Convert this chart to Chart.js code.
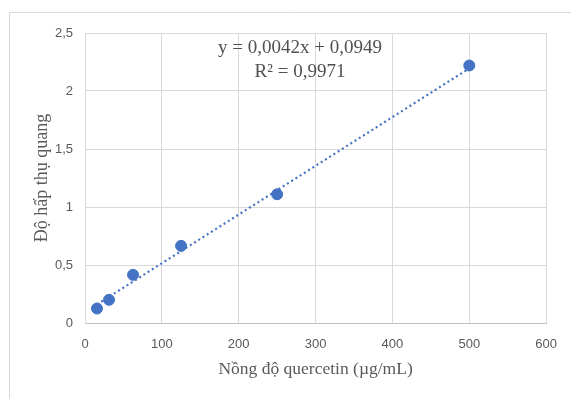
<!DOCTYPE html>
<html>
<head>
<meta charset="utf-8">
<script src="https://cdn.jsdelivr.net/npm/chart.js@4"></script>
<style>
  html, body { margin: 0; padding: 0; background: #fff; }
  #wrap { width: 571px; height: 399px; }
</style>
</head>
<body>
<div id="wrap"><canvas id="chart" width="571" height="399"></canvas></div>
<script>
// Concentration (µg/mL) and absorbance
const concentrations = [15.625, 31.25, 62.5, 125, 250, 500];
const absorbances = [0.125, 0.2, 0.415, 0.665, 1.11, 2.22];

// Linear trendline endpoints (from y = 0,0042x + 0,0949)
const trendX = [15.625, 500];
const trendY = [0.1605, 2.1949];

const equationLines = ["y = 0,0042x + 0,0949", "R² = 0,9971"];

const blue = "#4472C4";
const gridColor = "#d9d9d9";

// Outer frame + equation label
const decorPlugin = {
  id: "decor",
  afterDraw(chart) {
    const ctx = chart.ctx;
    ctx.save();
    ctx.strokeStyle = gridColor;
    ctx.lineWidth = 1;
    ctx.beginPath();
    ctx.moveTo(9.5, 399);
    ctx.lineTo(9.5, 12.5);
    ctx.lineTo(571, 12.5);
    ctx.stroke();

    ctx.fillStyle = "#505050";
    ctx.font = "19px 'Liberation Serif'";
    ctx.textAlign = "center";
    ctx.textBaseline = "middle";
    ctx.fillText(equationLines[0], 300, 48);
    ctx.fillText(equationLines[1], 300, 72);
    ctx.restore();
  },
};

new Chart(document.getElementById("chart"), {
  type: "scatter",
  data: {
    datasets: [
      {
        label: "Absorbance",
        data: concentrations.map((x, i) => ({ x: x, y: absorbances[i] })),
        backgroundColor: blue,
        borderColor: blue,
        pointRadius: 5.5,
        pointHoverRadius: 5.5,
        order: 1,
      },
      {
        label: "Trendline",
        type: "line",
        data: trendX.map((x, i) => ({ x: x, y: trendY[i] })),
        borderColor: blue,
        borderWidth: 2.2,
        borderDash: [2, 3],
        pointRadius: 0,
        fill: false,
        order: 2,
      },
    ],
  },
  options: {
    responsive: false,
    animation: false,
    layout: { padding: { left: 0, top: 33, right: 23, bottom: 0 } },
    plugins: {
      legend: { display: false },
      tooltip: { enabled: false },
    },
    scales: {
      x: {
        type: "linear",
        min: 0,
        max: 600,
        ticks: {
          stepSize: 100,
          color: "#595959",
          font: { family: "'Liberation Sans'", size: 13 },
          padding: 14,
        },
        grid: { color: gridColor, drawTicks: false },
        border: { color: "#bfbfbf" },
        title: {
          display: true,
          text: "Nồng độ quercetin (µg/mL)",
          color: "#595959",
          font: { family: "'Liberation Serif'", size: 17.5 },
          padding: { top: 0, bottom: 19 },
        },
        afterFit(scale) {
          scale.height = 76;
        },
      },
      y: {
        min: 0,
        max: 2.5,
        ticks: {
          stepSize: 0.5,
          color: "#595959",
          font: { family: "'Liberation Sans'", size: 13 },
          padding: 12,
          callback: (v) => String(v).replace(".", ","),
        },
        grid: { color: gridColor, drawTicks: false },
        border: { color: gridColor },
        title: {
          display: true,
          text: "Độ hấp thụ quang",
          color: "#595959",
          font: { family: "'Liberation Serif'", size: 18 },
          padding: { top: 31, bottom: 0 },
        },
        afterFit(scale) {
          scale.width = 85;
        },
      },
    },
  },
  plugins: [decorPlugin],
});
</script>
</body>
</html>
